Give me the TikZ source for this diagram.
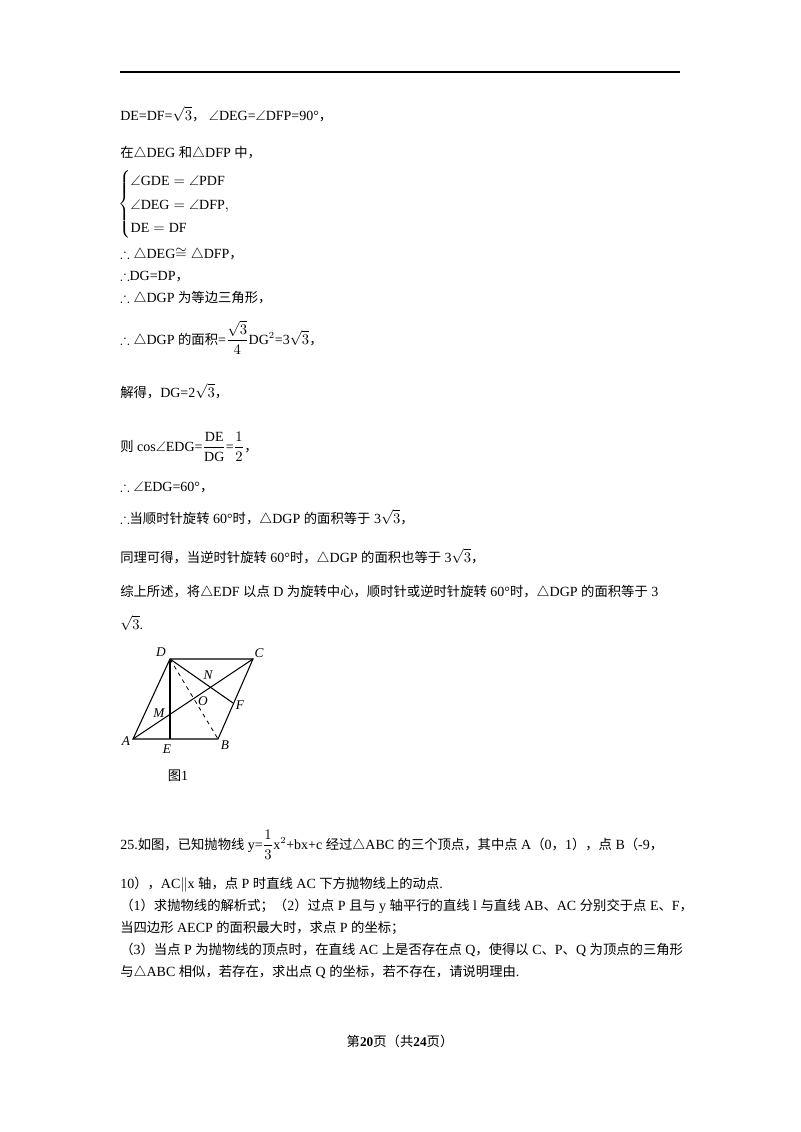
\documentclass[tikz,border=0pt]{standalone}
\usepackage{amsmath,amssymb}
\usepackage{fontspec}
\setmainfont{Liberation Serif}
\newfontfamily\zhf{Noto Sans CJK SC}
\newcommand{\zh}[1]{{\zhf\fontsize{10}{12}\selectfont #1}}
\begin{document}
\begin{tikzpicture}[x=0.75pt,y=-0.75pt,
  txt/.style={anchor=base west,inner sep=0,font=\fontsize{10.5}{13}\selectfont},
  lab/.style={font=\fontsize{10}{11}\selectfont\itshape,inner sep=1pt},
  edge/.style={line width=0.8pt}]
\useasboundingbox (0,0) rectangle (800,1132);
\draw[line width=0.8pt] (120,72) -- (680,72);
\node[txt] (l1) at (120,120) {DE=DF=$\sqrt{3}$\zh{，}\ $\angle$DEG=$\angle$DFP=90°\zh{，}};
\node[txt] (l2) at (120,157) {\zh{在}$\triangle$DEG \zh{和}$\triangle$DFP \zh{中，}};
\node[txt] (l3) at (118,208) {\renewcommand{\arraystretch}{1.35}$\left\{\begin{array}{@{}l}\angle\mathrm{GDE}=\angle\mathrm{PDF}\\ \angle\mathrm{DEG}=\angle\mathrm{DFP},\\ \mathrm{DE}=\mathrm{DF}\end{array}\right.$};
\node[txt] (l4) at (120,258) {$\therefore\triangle$DEG$\cong\triangle$DFP\zh{，}};
\node[txt] (l5) at (120,280) {$\therefore$DG=DP\zh{，}};
\node[txt] (l6) at (120,302) {$\therefore\triangle$DGP \zh{为等边三角形，}};
\node[txt] (l7) at (120,344) {$\therefore\triangle$DGP \zh{的面积}=$\dfrac{\sqrt{3}}{4}$DG$^2$=3$\sqrt{3}$\zh{，}};
\node[txt] (l8) at (120,397) {\zh{解得，}DG=2$\sqrt{3}$\zh{，}};
\node[txt] (l9) at (120,451) {\zh{则} cos$\angle$EDG=$\dfrac{\mathrm{DE}}{\mathrm{DG}}$=$\dfrac{1}{2}$\zh{，}};
\node[txt] (l10) at (120,491) {$\therefore\angle$EDG=60°\zh{，}};
\node[txt] (l11) at (120,523) {$\therefore$\zh{当顺时针旋转} 60°\zh{时，}$\triangle$DGP \zh{的面积等于} 3$\sqrt{3}$\zh{，}};
\node[txt] (l12) at (120,562) {\zh{同理可得，当逆时针旋转} 60°\zh{时，}$\triangle$DGP \zh{的面积也等于} 3$\sqrt{3}$\zh{，}};
\node[txt] (l13) at (120,596) {\zh{综上所述，将}$\triangle$EDF \zh{以点} D \zh{为旋转中心，顺时针或逆时针旋转} 60°\zh{时，}$\triangle$DGP \zh{的面积等于} 3};
\node[txt] (l14) at (120,629) {$\sqrt{3}$.};
% figure
\coordinate (D) at (170,659); \coordinate (C) at (253,659);
\coordinate (A) at (133,739); \coordinate (B) at (218,739);
\coordinate (E) at (170,739); \coordinate (F) at (233,703);
\draw[edge] (A) -- (B) -- (C) -- (D) -- cycle;
\draw[edge] (A) -- (C);
\draw[edge] (D) -- (E);
\draw[edge] (D) -- (F);
\draw[line width=0.6pt,dashed] (D) -- (B);
\node[lab] (nD) at (161,652) {D};
\node[lab] (nC) at (259,653) {C};
\node[lab] (nA) at (126,741) {A};
\node[lab] (nB) at (225,745) {B};
\node[lab] (nE) at (167,749) {E};
\node[lab] (nF) at (240,705) {F};
\node[lab] (nN) at (208,675) {N};
\node[lab] (nO) at (203,701) {O};
\node[lab] (nM) at (159,713) {M};
\node[anchor=base,inner sep=0] (fig) at (178,780) {\zh{图}\fontsize{10.5}{12}\selectfont 1};
% problem 25
\node[txt] (p1) at (120,849) {25.\zh{如图，已知抛物线} y=$\dfrac{1}{3}$x$^2$+bx+c \zh{经过}$\triangle$ABC \zh{的三个顶点，其中点} A\zh{（}0\zh{，}1\zh{），点} B\zh{（}-9\zh{，}};
\node[txt] (p2) at (120,888) {10\zh{），}AC$\parallel$x \zh{轴，点} P \zh{时直线} AC \zh{下方抛物线上的动点}.};
\node[txt] (p3) at (120,910) {\zh{（}1\zh{）求抛物线的解析式；（}2\zh{）过点} P \zh{且与} y \zh{轴平行的直线} l \zh{与直线} AB\zh{、}AC \zh{分别交于点} E\zh{、}F\zh{，}};
\node[txt] (p4) at (120,932) {\zh{当四边形} AECP \zh{的面积最大时，求点} P \zh{的坐标；}};
\node[txt] (p5) at (120,954) {\zh{（}3\zh{）当点} P \zh{为抛物线的顶点时，在直线} AC \zh{上是否存在点} Q\zh{，使得以} C\zh{、}P\zh{、}Q \zh{为顶点的三角形}};
\node[txt] (p6) at (120,976) {\zh{与}$\triangle$ABC \zh{相似，若存在，求出点} Q \zh{的坐标，若不存在，请说明理由}.};
\node[anchor=base,inner sep=0] (foot) at (400,1046) {\zh{第}\textbf{20}\zh{页（共}\textbf{24}\zh{页）}};
\end{tikzpicture}
\end{document}
